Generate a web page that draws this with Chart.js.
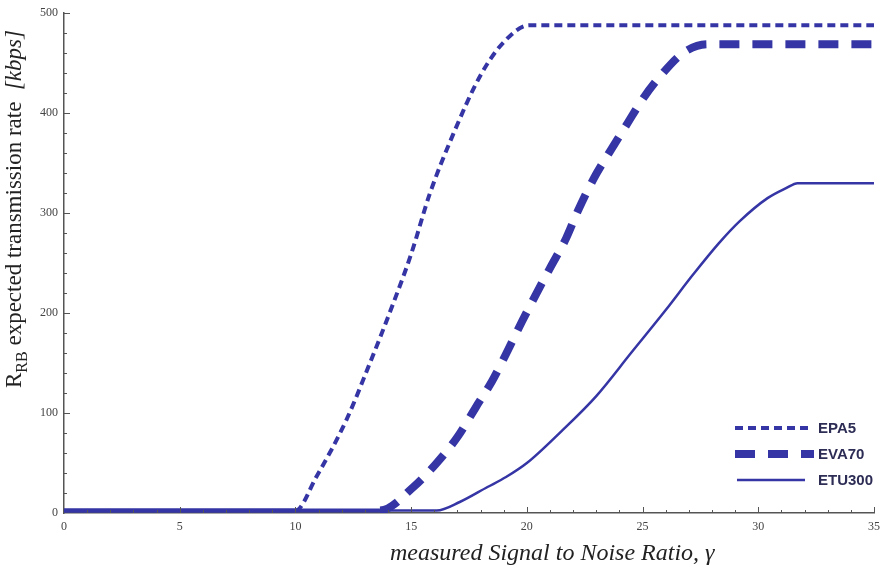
<!DOCTYPE html>
<html>
<head>
<meta charset="utf-8">
<script src="https://cdn.jsdelivr.net/npm/chart.js@4.4.0/dist/chart.umd.min.js"></script>
<style>
  html, body { margin: 0; padding: 0; background: #fff; }
</style>
</head>
<body>
<canvas id="myChart" width="888" height="569"></canvas>
<script>
// data (x = SNR, y = kbps)
var epa5X = [0, 10, 10.9, 12.2, 13.2, 14.1, 15.0, 15.8, 16.8, 18.0, 19.0, 20.1, 35];
var epa5Y = [2.5, 2.5, 36, 93, 149, 202, 259, 319, 378, 438, 471, 488, 488];

var eva70X = [0, 13.65, 15.1, 16.1, 17.0, 17.8, 18.5, 19.1, 19.8, 20.4, 21.0, 21.7, 22.2, 22.9, 23.6, 24.3, 25.0, 25.8, 26.8, 27.8, 35];
var eva70Y = [2.5, 2.5, 26, 50, 76, 106, 132, 159, 192, 219, 245, 275, 302, 335, 362, 388, 414, 438, 461, 469, 469];

var etu300X = [0, 16.1, 17.1, 18.3, 19.1, 20.0, 21.5, 23.0, 24.5, 26.0, 27.2, 28.3, 29.2, 30.4, 31.2, 31.7, 35];
var etu300Y = [2.5, 2.5, 11, 26, 36, 50, 82, 117, 160, 203, 239, 270, 292, 315, 325, 330, 330];

var seriesNames = ['EPA5', 'EVA70', 'ETU300'];
var xTicks = [0, 5, 10, 15, 20, 25, 30, 35];
var yTicks = [0, 100, 200, 300, 400, 500];

var lineColor = '#3535a5';

function toPoints(xs, ys) {
  return xs.map(function (x, i) { return { x: x, y: ys[i] }; });
}

// the flat part along the axis is drawn as one solid band in the original
function flat(c) {
  return c.p0.parsed.y < 3 && c.p1.parsed.y < 3;
}

// ticks pointing into the plot, Mathematica style
var innerTicks = {
  id: 'innerTicks',
  afterDraw: function (chart) {
    var ctx = chart.ctx;
    var xs = chart.scales.x, ys = chart.scales.y;
    var area = chart.chartArea;
    ctx.save();
    ctx.strokeStyle = '#555';
    ctx.lineWidth = 1;
    for (var v = 1; v <= 35; v++) {
      var px = Math.round(xs.getPixelForValue(v)) + 0.5;
      var len = (v % 5 === 0) ? 6 : 3;
      ctx.beginPath();
      ctx.moveTo(px, area.bottom);
      ctx.lineTo(px, area.bottom - len);
      ctx.stroke();
    }
    for (var w = 20; w <= 500; w += 20) {
      var py = Math.round(ys.getPixelForValue(w)) + 0.5;
      var l2 = (w % 100 === 0) ? 6 : 3;
      ctx.beginPath();
      ctx.moveTo(area.left, py);
      ctx.lineTo(area.left + l2, py);
      ctx.stroke();
    }
    ctx.restore();
  }
};

// axis titles
var axisTitles = {
  id: 'axisTitles',
  afterDraw: function (chart) {
    var ctx = chart.ctx;
    ctx.save();
    ctx.fillStyle = '#222';
    ctx.textBaseline = 'alphabetic';
    ctx.textAlign = 'left';
    ctx.font = 'italic 24px "Liberation Serif"';
    ctx.fillText('measured Signal to Noise Ratio, \u03b3', 390, 560);

    ctx.translate(21, 388);
    ctx.rotate(-Math.PI / 2);
    var x = 0;
    ctx.font = '23px "Liberation Serif"';
    ctx.fillText('R', x, 0);
    x += ctx.measureText('R').width;
    ctx.font = '16px "Liberation Serif"';
    ctx.fillText('RB', x, 6);
    x += ctx.measureText('RB').width;
    ctx.font = '23px "Liberation Serif"';
    var mid = ' expected transmission rate  ';
    ctx.fillText(mid, x, 0);
    x += ctx.measureText(mid).width;
    ctx.font = 'italic 23px "Liberation Serif"';
    ctx.fillText('[kbps]', x, 0);
    ctx.restore();
  }
};

// legend in the lower right corner
var cornerLegend = {
  id: 'cornerLegend',
  afterDraw: function (chart) {
    var ctx = chart.ctx;
    var rows = [
      { y: 428, x0: 735, x1: 810 },
      { y: 454, x0: 735, x1: 814 },
      { y: 480, x0: 737, x1: 805 }
    ];
    ctx.save();
    chart.data.datasets.forEach(function (ds, i) {
      var r = rows[i];
      ctx.strokeStyle = ds.borderColor;
      ctx.lineWidth = ds.borderWidth;
      ctx.setLineDash(ds.borderDash || []);
      ctx.beginPath();
      ctx.moveTo(r.x0, r.y);
      ctx.lineTo(r.x1, r.y);
      ctx.stroke();
      ctx.setLineDash([]);
      ctx.fillStyle = '#2c2c55';
      ctx.font = 'bold 15px "Liberation Sans"';
      ctx.textBaseline = 'middle';
      ctx.fillText(ds.label, 818, r.y + 1);
    });
    ctx.restore();
  }
};

var ctx = document.getElementById('myChart').getContext('2d');
var myChart = new Chart(ctx, {
  type: 'line',
  data: {
    datasets: [{
      label: seriesNames[0],
      data: toPoints(epa5X, epa5Y),
      borderColor: lineColor,
      borderWidth: 4,
      borderDash: [8, 5],
      segment: {
        borderDash: function (c) { return flat(c) ? [] : undefined; }
      },
      cubicInterpolationMode: 'monotone',
      pointRadius: 0,
      fill: false
    }, {
      label: seriesNames[1],
      data: toPoints(eva70X, eva70Y),
      borderColor: lineColor,
      borderWidth: 8,
      borderDash: [20, 13],
      segment: {
        borderDash: function (c) { return flat(c) ? [] : undefined; },
        borderWidth: function (c) { return flat(c) ? 4 : undefined; }
      },
      cubicInterpolationMode: 'monotone',
      pointRadius: 0,
      fill: false
    }, {
      label: seriesNames[2],
      data: toPoints(etu300X, etu300Y),
      borderColor: lineColor,
      borderWidth: 2.5,
      cubicInterpolationMode: 'monotone',
      pointRadius: 0,
      fill: false
    }]
  },
  options: {
    responsive: false,
    animation: false,
    devicePixelRatio: 1,
    layout: { padding: { top: 11, right: 14, left: 0, bottom: 0 } },
    plugins: {
      legend: { display: false },
      tooltip: { enabled: false }
    },
    scales: {
      x: {
        type: 'linear',
        min: 0,
        max: 35,
        afterBuildTicks: function (s) { s.ticks = xTicks.map(function (v) { return { value: v }; }); },
        afterFit: function (s) { s.height = 56; },
        ticks: { color: '#444', padding: 7, maxRotation: 0, font: { family: 'Liberation Serif', size: 12 } },
        grid: { drawOnChartArea: false, drawTicks: false },
        border: { color: '#555', width: 1.5 }
      },
      y: {
        min: 0,
        max: 500,
        afterBuildTicks: function (s) { s.ticks = yTicks.map(function (v) { return { value: v }; }); },
        afterFit: function (s) { s.width = 64; },
        ticks: { color: '#444', padding: 6, font: { family: 'Liberation Serif', size: 12 } },
        grid: { drawOnChartArea: false, drawTicks: false },
        border: { color: '#555', width: 1.5 }
      }
    }
  },
  plugins: [innerTicks, axisTitles, cornerLegend]
});
</script>
</body>
</html>
